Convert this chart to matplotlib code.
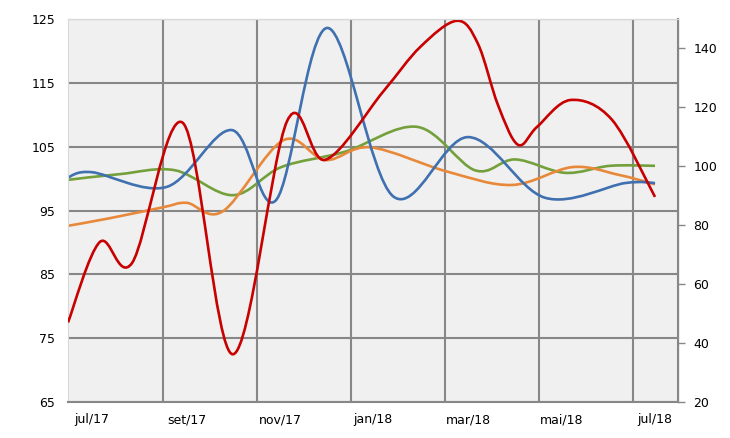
import matplotlib
matplotlib.use('Agg')
import matplotlib.pyplot as plt
from matplotlib.path import Path
from matplotlib.patches import PathPatch

# x in months after jul/17
month_labels = ['jul/17', 'set/17', 'nov/17', 'jan/18', 'mar/18', 'mai/18', 'jul/18']
label_pos = [0.49, 2.43, 4.34, 6.24, 8.18, 10.1, 12.0]
grid_pos = [1.94, 3.86, 5.78, 7.70, 9.62, 11.54]

blue_x = [0, 0.49, 2.02, 3.35, 4.25, 5.30, 6.65, 8.18, 9.75, 11.39, 12.0]
blue_y = [100.2, 101.0, 98.7, 107.6, 96.6, 123.6, 97.2, 106.5, 97.0, 99.3, 99.3]

green_x = [0, 1.06, 2.19, 3.37, 4.36, 5.66, 7.14, 8.32, 9.14, 10.16, 11.08, 12.0]
green_y = [99.8, 100.7, 101.3, 97.4, 101.8, 104.2, 108.1, 101.3, 103.0, 100.9, 102.0, 102.0]

orange_x = [0, 0.86, 1.94, 2.43, 3.17, 4.40, 5.26, 6.18, 7.75, 9.08, 10.31, 11.25, 12.0]
orange_y = [92.6, 93.8, 95.5, 96.2, 94.9, 106.0, 102.9, 104.9, 101.1, 99.0, 101.8, 100.6, 99.1]

# red series on the secondary axis
red_x = [0, 0.65, 1.31, 2.35, 3.37, 4.48, 5.26, 6.44, 7.20, 7.95, 8.38, 8.79, 9.20, 9.59, 10.27, 11.12, 12.0]
red_y = [47.0, 74.3, 67.2, 114.7, 36.2, 115.4, 102.2, 125.3, 140.5, 149.4, 141.6, 120.8, 107.3, 113.4, 122.5, 115.8, 89.6]


def smooth_path(xs, ys):
    # excel-like smoothed line: bezier segments through the points
    pts = list(zip(xs, ys))
    n = len(pts)
    verts = [pts[0]]
    codes = [Path.MOVETO]
    for i in range(n - 1):
        p0 = pts[i - 1] if i > 0 else pts[i]
        p1 = pts[i]
        p2 = pts[i + 1]
        p3 = pts[i + 2] if i + 2 < n else pts[i + 1]
        c1 = (p1[0] + (p2[0] - p0[0]) / 6, p1[1] + (p2[1] - p0[1]) / 6)
        c2 = (p2[0] - (p3[0] - p1[0]) / 6, p2[1] - (p3[1] - p1[1]) / 6)
        verts += [c1, c2, p2]
        codes += [Path.CURVE4] * 3
    return Path(verts, codes)


fig = plt.figure(figsize=(7.3, 4.38), dpi=100)
ax = fig.add_axes([68/730, 36/438, 610/730, 383/438])
ax.set_facecolor('#f0f0f0')
ax2 = ax.twinx()

lw = 1.9
ax.add_patch(PathPatch(smooth_path(green_x, green_y), fill=False, color='#74a03c', lw=lw))
ax.add_patch(PathPatch(smooth_path(orange_x, orange_y), fill=False, color='#e8883a', lw=lw))
ax.add_patch(PathPatch(smooth_path(blue_x, blue_y), fill=False, color='#3f70b0', lw=lw))
ax2.add_patch(PathPatch(smooth_path(red_x, red_y), fill=False, color='#c80000', lw=lw))

ax.set_xlim(0, 12.47)
ax.set_ylim(65, 125)
ax2.set_ylim(20, 150)

ax.set_yticks(range(65, 126, 10))
ax2.set_yticks(range(20, 141, 20))
ax.set_xticks(grid_pos)
ax.set_xticklabels([])
ax.set_xticks(label_pos, minor=True)
ax.set_xticklabels(month_labels, minor=True)

gc = '#878787'
ax.grid(True, which='major', color=gc, lw=1.5)
ax.set_axisbelow(True)
ax.tick_params(axis='x', which='both', length=0, pad=8, labelsize=9)
ax.tick_params(axis='y', length=0, pad=9, labelsize=9)
ax2.tick_params(axis='y', length=5, width=1, color=gc, pad=6, labelsize=9)

ax.spines['left'].set_color('#d8d8d8')
ax.spines['top'].set_color('#d8d8d8')
ax.spines['bottom'].set_color(gc)
ax.spines['bottom'].set_linewidth(1.5)
ax2.spines['left'].set_visible(False)
ax2.spines['top'].set_color('#d8d8d8')
ax2.spines['bottom'].set_visible(False)
ax2.spines['right'].set_color(gc)
ax2.spines['right'].set_linewidth(1.5)

plt.savefig('out.png', dpi=100)
